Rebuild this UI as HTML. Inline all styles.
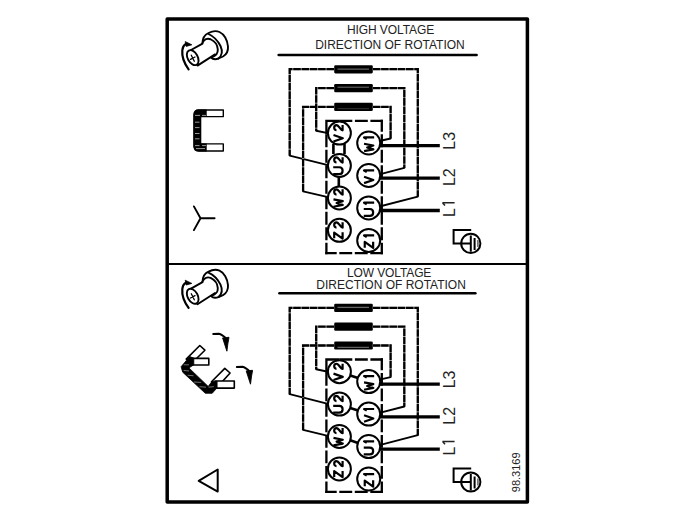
<!DOCTYPE html>
<html><head><meta charset="utf-8"><style>
html,body{margin:0;padding:0;background:#fff;width:700px;height:512px;overflow:hidden}
svg{display:block}
.w{fill:none;stroke:#000;stroke-width:2.3;stroke-dasharray:7.6 0.7}
.box{fill:none;stroke:#000;stroke-width:2.3;stroke-dasharray:12.9 2.6}
.wu{fill:none;stroke:#b8b8b8;stroke-width:2}
.wd{fill:none;stroke:#000;stroke-width:1.9;stroke-linecap:round}
.lk{fill:none;stroke:#000;stroke-width:2.6}
.ll{fill:none;stroke:#000;stroke-width:3.3}
.c{fill:#fff;stroke:#000;stroke-width:2}
.gl path{fill:none;stroke:#000;stroke-width:2.2;stroke-linejoin:round;stroke-linecap:butt}
.e{fill:none;stroke:#000;stroke-width:2}
.e2{fill:none;stroke:#777;stroke-width:1.8}
.ul{fill:none;stroke:#000;stroke-width:2.5;stroke-linecap:round}
.lt{font-family:"Liberation Sans",sans-serif;font-size:16px;fill:#222}
.tt{font-family:"Liberation Sans",sans-serif;font-size:12px;letter-spacing:0;fill:#222}
.ic{fill:none;stroke:#000;stroke-width:1.9;stroke-linecap:round;stroke-linejoin:round}
</style></head><body>
<svg width="700" height="512" viewBox="0 0 700 512">
<defs>
<g id="screw">
  <path class="ic" style="fill:#fff" d="M202.5,43.5 C202.5,38 205,34.5 208.5,33 C212,31.2 216,30.5 219.5,32 C224,34 227.5,40 228,46.5 C228.3,51 226.5,54.5 223,56.5 L218.5,58.5 C216,59.5 213,59.5 211,57.5 Z"/>
  <path class="ic" d="M208.5,34 C213,36 218,41 220.5,46 C222.5,50.5 222,55.5 218.5,58.4"/>
  <path style="fill:#fff;stroke:none" d="M191,50 L202.5,43.6 C204,39 207.5,38 210.6,39.25 C214.5,41 217.5,45 217.8,49.5 C218,53 215.5,56 211.5,57.3 L197.5,65.6 Z"/>
  <path class="ic" d="M202.5,43 C204,39 207.5,38 210.6,39.25 C214.5,41 217.5,45 217.8,49.5 C218,53 215.5,56 211.5,57.3"/>
  <path class="ic" d="M191,50 L202.5,43.6 M197.5,65.6 L215,54.4"/>
  <ellipse class="ic" style="fill:#fff" cx="192.7" cy="57.65" rx="8.1" ry="5" transform="rotate(61 192.7 57.65)"/>
  <path class="ic" style="stroke-width:1.3" d="M191.3,55.2 L194.3,61.2 M190.5,59.4 L195,57"/>
  <path class="ic" style="stroke-width:2.2" d="M188.6,69.3 C184,63 181.8,56 182.3,50.5 C182.6,47.5 183.5,45.5 185.5,44.2"/>
  <path d="M185.2,41.6 L191.8,44.8 L186.2,46.4 Z" fill="#000" stroke="#000" stroke-width="0.8" stroke-linejoin="round"/>
</g>
</defs>
<rect x="167.2" y="19" width="360.2" height="482.9" fill="none" stroke="#000" stroke-width="3.5" stroke-linejoin="round"/>
<path d="M167,264.1 H527" stroke="#000" stroke-width="2"/>
<text class="tt" x="347" y="34.3" style="letter-spacing:-0.1px">HIGH VOLTAGE</text>
<text class="tt" x="315.2" y="48.6">DIRECTION OF ROTATION</text>
<text class="tt" x="347" y="276.5" style="letter-spacing:-0.12px">LOW VOLTAGE</text>
<text class="tt" x="316.3" y="288.9">DIRECTION OF ROTATION</text>
<path class="ul" d="M278.6,55 H476.6"/>
<path class="ul" d="M279.4,293.2 H475.4"/>
<rect x="334.2" y="65.20" width="38.6" height="8.2" rx="1.3" fill="#000"/>
<path d="M337.5,69.10 H369" stroke="#9a9a9a" stroke-width="0.8"/>
<rect x="334.2" y="84.00" width="38.6" height="8.2" rx="1.3" fill="#000"/>
<path d="M337.5,87.20 H369" stroke="#8a8a8a" stroke-width="0.8"/>
<rect x="334.2" y="102.80" width="38.6" height="8.2" rx="1.3" fill="#000"/>
<path d="M337.5,108.70 H369" stroke="#444" stroke-width="0.8"/>
<path class="wu" d="M334.00,69.20 L289.70,69.20 L289.70,155.60"/><path class="w" d="M334.00,69.20 L289.70,69.20 L289.70,155.60"/>
<path class="wd" d="M289.70,155.60 L328.00,165.20"/>
<path class="wu" d="M372.80,69.20 L417.80,69.20 L417.80,196.60"/><path class="w" d="M372.80,69.20 L417.80,69.20 L417.80,196.60"/>
<path class="wd" d="M417.80,196.60 L379.50,206.50"/>
<path class="wu" d="M334.00,88.10 L316.20,88.10 L316.20,130.70"/><path class="w" d="M334.00,88.10 L316.20,88.10 L316.20,130.70"/>
<path class="wd" d="M316.20,130.70 L328.00,133.10"/>
<path class="wu" d="M372.80,88.10 L404.30,88.10 L404.30,167.90"/><path class="w" d="M372.80,88.10 L404.30,88.10 L404.30,167.90"/>
<path class="wd" d="M404.30,167.90 L379.50,174.30"/>
<path class="wu" d="M334.00,106.90 L303.10,106.90 L303.10,191.30"/><path class="w" d="M334.00,106.90 L303.10,106.90 L303.10,191.30"/>
<path class="wd" d="M303.10,191.30 L328.00,197.20"/>
<path class="wu" d="M372.80,106.90 L390.60,106.90 L390.60,138.50"/><path class="w" d="M372.80,106.90 L390.60,106.90 L390.60,138.50"/>
<path class="wd" d="M390.60,138.50 L379.50,141.00"/>
<path class="box" style="stroke-dasharray:none" d="M325.25,120.90 H339.4 M326.40,119.75 V134.35"/>
<path class="box" d="M339.4,120.90 H382.95"/>
<path class="box" style="stroke-dashoffset:1.4500000000000002" d="M325.25,253.20 H382.95"/>
<path class="box" d="M326.40,134.35 V254.35"/>
<path class="box" style="stroke-dashoffset:0.9500000000000002" d="M381.80,119.75 V254.35"/>
<path class="lk" d="M333.4,144.00 V154.00 M344.5,144.00 V154.00 M338.8,177.00 V186.00"/>
<path class="ll" d="M379,145.60 H439.8"/>
<path class="ll" d="M379,178.20 H439.8"/>
<path class="ll" d="M379,210.50 H439.8"/>
<circle class="c" cx="339.4" cy="133.10" r="11.5"/>
<g class="gl" transform="translate(338.40,133.30) rotate(-90) translate(0,-5.2)"><path transform="translate(-9.15,0)" d="M1,0.3 L4.2,9.6 L7.4,0.3"/><path transform="translate(1.95,0)" d="M1.1,3.3 C1.1,1.8 2.3,1 3.6,1 C5,1 6.2,1.9 6.2,3.2 C6.2,4.6 4.9,5.4 3.7,6.4 C2.4,7.4 1,8.3 1,9.4 H6.3"/></g>
<circle class="c" cx="368.7" cy="143.00" r="11.5"/>
<g class="gl" transform="translate(368.95,144.30) rotate(-90) translate(0,-5.2)"><path transform="translate(-7.85,0)" d="M1,0.3 L2.8,9.6 L4.7,3.4 L6.6,9.6 L8.4,0.3"/><path transform="translate(4.25,0)" d="M1.1,3 L2.6,0.3 V10.4"/></g>
<circle class="c" cx="339.4" cy="165.50" r="11.5"/>
<g class="gl" transform="translate(338.40,165.70) rotate(-90) translate(0,-5.2)"><path transform="translate(-9.35,0)" d="M1,0 V6 C1,8.3 2.5,9.4 4.4,9.4 C6.3,9.4 7.8,8.3 7.8,6 V0"/><path transform="translate(2.15,0)" d="M1.1,3.3 C1.1,1.8 2.3,1 3.6,1 C5,1 6.2,1.9 6.2,3.2 C6.2,4.6 4.9,5.4 3.7,6.4 C2.4,7.4 1,8.3 1,9.4 H6.3"/></g>
<circle class="c" cx="368.7" cy="175.47" r="11.5"/>
<g class="gl" transform="translate(368.95,176.77) rotate(-90) translate(0,-5.2)"><path transform="translate(-7.35,0)" d="M1,0.3 L4.2,9.6 L7.4,0.3"/><path transform="translate(3.75,0)" d="M1.1,3 L2.6,0.3 V10.4"/></g>
<circle class="c" cx="339.4" cy="197.90" r="11.5"/>
<g class="gl" transform="translate(338.40,198.10) rotate(-90) translate(0,-5.2)"><path transform="translate(-9.65,0)" d="M1,0.3 L2.8,9.6 L4.7,3.4 L6.6,9.6 L8.4,0.3"/><path transform="translate(2.45,0)" d="M1.1,3.3 C1.1,1.8 2.3,1 3.6,1 C5,1 6.2,1.9 6.2,3.2 C6.2,4.6 4.9,5.4 3.7,6.4 C2.4,7.4 1,8.3 1,9.4 H6.3"/></g>
<circle class="c" cx="368.7" cy="207.94" r="11.5"/>
<g class="gl" transform="translate(368.95,209.24) rotate(-90) translate(0,-5.2)"><path transform="translate(-7.55,0)" d="M1,0 V6 C1,8.3 2.5,9.4 4.4,9.4 C6.3,9.4 7.8,8.3 7.8,6 V0"/><path transform="translate(3.95,0)" d="M1.1,3 L2.6,0.3 V10.4"/></g>
<circle class="c" cx="339.4" cy="230.30" r="11.5"/>
<g class="gl" transform="translate(338.40,230.50) rotate(-90) translate(0,-5.2)"><path transform="translate(-9.05,0)" d="M1.2,1 H7 L1,9.4 H7.2"/><path transform="translate(1.85,0)" d="M1.1,3.3 C1.1,1.8 2.3,1 3.6,1 C5,1 6.2,1.9 6.2,3.2 C6.2,4.6 4.9,5.4 3.7,6.4 C2.4,7.4 1,8.3 1,9.4 H6.3"/></g>
<circle class="c" cx="368.7" cy="240.41" r="11.5"/>
<g class="gl" transform="translate(368.95,241.71) rotate(-90) translate(0,-5.2)"><path transform="translate(-7.25,0)" d="M1.2,1 H7 L1,9.4 H7.2"/><path transform="translate(3.65,0)" d="M1.1,3 L2.6,0.3 V10.4"/></g>
<text class="lt" transform="translate(455.2,149.70) rotate(-90)">L3</text>
<text class="lt" transform="translate(455.2,186.10) rotate(-90)">L2</text>
<text class="lt" transform="translate(455.2,216.90) rotate(-90)">L</text>
<path d="M442.4,202.80 H454.6 M442.6,202.90 L445,205.60" fill="none" stroke="#222" stroke-width="1.5"/>
<g transform="translate(0,0.00)"><path class="e" d="M471.2,230 H453.6 V243.4 H470.8"/><circle class="e" cx="470.8" cy="243.4" r="9.6"/><path class="e" d="M470.8,235.4 V251.8 M474.6,238 V250"/><path class="e2" d="M477.9,240 V247"/></g>
<use href="#screw" transform="translate(0,0.00)"/>
<rect x="334.2" y="303.80" width="38.6" height="8.2" rx="1.3" fill="#000"/>
<path d="M337.5,307.40 H369" stroke="#666" stroke-width="1.3"/>
<rect x="334.2" y="322.60" width="38.6" height="8.2" rx="1.3" fill="#000"/>
<path d="M337.5,326.70 H369" stroke="#000" stroke-width="0.1"/>
<rect x="334.2" y="341.40" width="38.6" height="8.2" rx="1.3" fill="#000"/>
<path d="M337.5,347.30 H369" stroke="#888" stroke-width="0.9"/>
<path class="wu" d="M334.00,307.80 L289.70,307.80 L289.70,394.20"/><path class="w" d="M334.00,307.80 L289.70,307.80 L289.70,394.20"/>
<path class="wd" d="M289.70,394.20 L328.00,403.80"/>
<path class="wu" d="M372.80,307.80 L417.80,307.80 L417.80,435.20"/><path class="w" d="M372.80,307.80 L417.80,307.80 L417.80,435.20"/>
<path class="wd" d="M417.80,435.20 L379.50,445.10"/>
<path class="wu" d="M334.00,326.70 L316.20,326.70 L316.20,369.30"/><path class="w" d="M334.00,326.70 L316.20,326.70 L316.20,369.30"/>
<path class="wd" d="M316.20,369.30 L328.00,371.70"/>
<path class="wu" d="M372.80,326.70 L404.30,326.70 L404.30,406.50"/><path class="w" d="M372.80,326.70 L404.30,326.70 L404.30,406.50"/>
<path class="wd" d="M404.30,406.50 L379.50,412.90"/>
<path class="wu" d="M334.00,345.50 L303.10,345.50 L303.10,429.90"/><path class="w" d="M334.00,345.50 L303.10,345.50 L303.10,429.90"/>
<path class="wd" d="M303.10,429.90 L328.00,435.80"/>
<path class="wu" d="M372.80,345.50 L390.60,345.50 L390.60,377.10"/><path class="w" d="M372.80,345.50 L390.60,345.50 L390.60,377.10"/>
<path class="wd" d="M390.60,377.10 L379.50,379.60"/>
<path class="box" style="stroke-dasharray:none" d="M325.25,359.50 H339.4 M326.40,358.35 V372.95"/>
<path class="box" d="M339.4,359.50 H382.95"/>
<path class="box" style="stroke-dashoffset:1.4500000000000002" d="M325.25,491.80 H382.95"/>
<path class="box" d="M326.40,372.95 V492.95"/>
<path class="box" style="stroke-dashoffset:0.9500000000000002" d="M381.80,358.35 V492.95"/>
<path class="lk" d="M349.5,375.30 L358,378.10"/>
<path class="lk" d="M349.5,407.70 L358,410.50"/>
<path class="lk" d="M349.5,440.10 L358,442.90"/>
<path class="ll" d="M379,384.20 H439.8"/>
<path class="ll" d="M379,416.80 H439.8"/>
<path class="ll" d="M379,449.10 H439.8"/>
<circle class="c" cx="339.4" cy="371.70" r="11.5"/>
<g class="gl" transform="translate(338.40,371.90) rotate(-90) translate(0,-5.2)"><path transform="translate(-9.15,0)" d="M1,0.3 L4.2,9.6 L7.4,0.3"/><path transform="translate(1.95,0)" d="M1.1,3.3 C1.1,1.8 2.3,1 3.6,1 C5,1 6.2,1.9 6.2,3.2 C6.2,4.6 4.9,5.4 3.7,6.4 C2.4,7.4 1,8.3 1,9.4 H6.3"/></g>
<circle class="c" cx="368.7" cy="381.60" r="11.5"/>
<g class="gl" transform="translate(368.95,382.90) rotate(-90) translate(0,-5.2)"><path transform="translate(-7.85,0)" d="M1,0.3 L2.8,9.6 L4.7,3.4 L6.6,9.6 L8.4,0.3"/><path transform="translate(4.25,0)" d="M1.1,3 L2.6,0.3 V10.4"/></g>
<circle class="c" cx="339.4" cy="404.10" r="11.5"/>
<g class="gl" transform="translate(338.40,404.30) rotate(-90) translate(0,-5.2)"><path transform="translate(-9.35,0)" d="M1,0 V6 C1,8.3 2.5,9.4 4.4,9.4 C6.3,9.4 7.8,8.3 7.8,6 V0"/><path transform="translate(2.15,0)" d="M1.1,3.3 C1.1,1.8 2.3,1 3.6,1 C5,1 6.2,1.9 6.2,3.2 C6.2,4.6 4.9,5.4 3.7,6.4 C2.4,7.4 1,8.3 1,9.4 H6.3"/></g>
<circle class="c" cx="368.7" cy="414.07" r="11.5"/>
<g class="gl" transform="translate(368.95,415.37) rotate(-90) translate(0,-5.2)"><path transform="translate(-7.35,0)" d="M1,0.3 L4.2,9.6 L7.4,0.3"/><path transform="translate(3.75,0)" d="M1.1,3 L2.6,0.3 V10.4"/></g>
<circle class="c" cx="339.4" cy="436.50" r="11.5"/>
<g class="gl" transform="translate(338.40,436.70) rotate(-90) translate(0,-5.2)"><path transform="translate(-9.65,0)" d="M1,0.3 L2.8,9.6 L4.7,3.4 L6.6,9.6 L8.4,0.3"/><path transform="translate(2.45,0)" d="M1.1,3.3 C1.1,1.8 2.3,1 3.6,1 C5,1 6.2,1.9 6.2,3.2 C6.2,4.6 4.9,5.4 3.7,6.4 C2.4,7.4 1,8.3 1,9.4 H6.3"/></g>
<circle class="c" cx="368.7" cy="446.54" r="11.5"/>
<g class="gl" transform="translate(368.95,447.84) rotate(-90) translate(0,-5.2)"><path transform="translate(-7.55,0)" d="M1,0 V6 C1,8.3 2.5,9.4 4.4,9.4 C6.3,9.4 7.8,8.3 7.8,6 V0"/><path transform="translate(3.95,0)" d="M1.1,3 L2.6,0.3 V10.4"/></g>
<circle class="c" cx="339.4" cy="468.90" r="11.5"/>
<g class="gl" transform="translate(338.40,469.10) rotate(-90) translate(0,-5.2)"><path transform="translate(-9.05,0)" d="M1.2,1 H7 L1,9.4 H7.2"/><path transform="translate(1.85,0)" d="M1.1,3.3 C1.1,1.8 2.3,1 3.6,1 C5,1 6.2,1.9 6.2,3.2 C6.2,4.6 4.9,5.4 3.7,6.4 C2.4,7.4 1,8.3 1,9.4 H6.3"/></g>
<circle class="c" cx="368.7" cy="479.01" r="11.5"/>
<g class="gl" transform="translate(368.95,480.31) rotate(-90) translate(0,-5.2)"><path transform="translate(-7.25,0)" d="M1.2,1 H7 L1,9.4 H7.2"/><path transform="translate(3.65,0)" d="M1.1,3 L2.6,0.3 V10.4"/></g>
<text class="lt" transform="translate(455.2,388.30) rotate(-90)">L3</text>
<text class="lt" transform="translate(455.2,424.70) rotate(-90)">L2</text>
<text class="lt" transform="translate(455.2,455.50) rotate(-90)">L</text>
<path d="M442.4,441.40 H454.6 M442.6,441.50 L445,444.20" fill="none" stroke="#222" stroke-width="1.5"/>
<g transform="translate(0,238.60)"><path class="e" d="M471.2,230 H453.6 V243.4 H470.8"/><circle class="e" cx="470.8" cy="243.4" r="9.6"/><path class="e" d="M470.8,235.4 V251.8 M474.6,238 V250"/><path class="e2" d="M477.9,240 V247"/></g>
<use href="#screw" transform="translate(0,238.60)"/>
<!-- C bracket -->
<path d="M223.3,110 H199 Q194,110 194,115 V146 Q194,151 199,151 H223.3 V143.9 H200.6 V116.6 H223.3 Z" fill="#fff" stroke="#000" stroke-width="1.4" stroke-linejoin="round"/>
<path d="M206.7,109.4 H198.5 Q193.5,109.4 193.5,115 V146 Q193.5,151.6 198.5,151.6 H206.7 V143.6 H200.6 V116.8 H206.7 Z" fill="#000"/>
<path d="M195,115.4 H200 M202,115.4 H206 M195,122.2 H199.5 M195,127.6 H199.5 M195,133.5 H199.5 M195,138.8 H199.5 M195,145.6 H199.5 M202,145.6 H206 M196,148.6 H205" stroke="#999" stroke-width="1"/>
<!-- Y -->
<path class="ic" d="M193.9,206.4 L200.5,218.3 L193.9,230.1 M200.5,218.3 H214.6" stroke-width="2.2"/>
<!-- delta link icon -->
<g stroke="#000" stroke-linejoin="round">
  <path d="M186.2,359.1 L199.8,345.5 L204.9,350.2 L195,360 Z" fill="#fff" stroke-width="1.6"/>
  <path d="M191.6,358.4 H208.8 V365 H191.6 Z" fill="#fff" stroke-width="1.6"/>
  <path d="M211.5,381.8 L224.8,368.4 L230.1,373 L217.1,387.4 Z" fill="#fff" stroke-width="1.6"/>
  <path d="M215,381 H234.3 V388.1 H215 Z" fill="#fff" stroke-width="1.6"/>
  <path d="M181.1,366.7 L189.7,356.6 L193.8,358.1 L193.8,364.8 L188.9,367.9 L208.2,386.4 L212,381.5 L217.1,381.2 L217.1,387.8 L212.2,393.3 L205.3,393.3 L182.7,372.2 Z" fill="#000" stroke-width="0.8"/>
  <path d="M183.8,364.8 H189 M183.6,370.4 L189,371 M187.6,375.2 L193.6,375.8 M193.8,382 L201.2,382.4 M199.5,386.7 L206,387.2 M208.6,387.2 L213.8,386.6" stroke="#808080" stroke-width="0.9"/>
</g>
<g>
  <g id="arr"><path class="ic" d="M213.2,334 L218.6,333.8 C220.6,334 222.6,335.4 225,337.3" stroke-width="1.9"/>
  <path d="M222.6,337.9 L229,337.3 L227.8,344 L226.9,351.2 Z" fill="#000" stroke="#000" stroke-width="0.9" stroke-linejoin="round"/></g>
  <use href="#arr" transform="translate(23.6,33)"/>
</g>
<!-- triangle -->
<path d="M198.7,480.9 L217.7,469.5 V491.6 Z" fill="none" stroke="#000" stroke-width="2" stroke-linejoin="round"/>
<text class="tt" style="font-size:11px;letter-spacing:0" transform="translate(520,492.2) rotate(-90)">98.3169</text>
</svg>
</body></html>
